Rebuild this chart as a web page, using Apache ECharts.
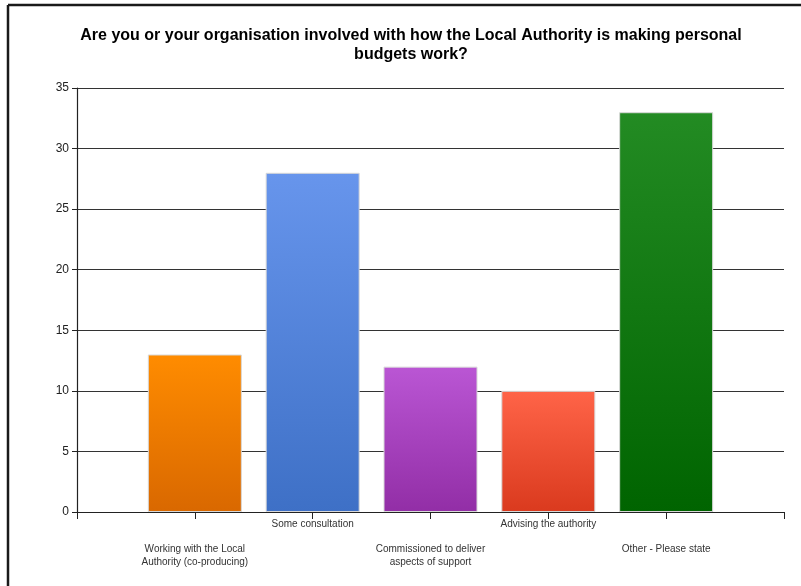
<!DOCTYPE html>
<html>
<head>
<meta charset="utf-8">
<script src="https://cdn.jsdelivr.net/npm/echarts@6/dist/echarts.min.js"></script>
<style>
  html, body { margin: 0; padding: 0; background: #fff; }
  #chart { width: 801px; height: 586px; }
</style>
</head>
<body>
<div id="chart"></div>
<script>
// Survey responses: involvement with personal budgets
const categories = [
  'Working with the Local\nAuthority (co-producing)',
  'Some consultation',
  'Commissioned to deliver\naspects of support',
  'Advising the authority',
  'Other - Please state'
];
const responses = [13, 28, 12, 10, 33];
const yTicks = { min: 0, max: 35, interval: 5 };

// top / bottom gradient colour per bar
const barColors = [
  ['#ff8c00', '#d96800'],
  ['#6795ec', '#3e70c6'],
  ['#ba56d4', '#922ea6'],
  ['#ff6448', '#da3a1e'],
  ['#238b23', '#006400']
];

// padded axis: an empty slot at each end so bars sit on the inner ticks
const axisCats = [''].concat(categories, ['']);
const barData = [null].concat(responses.map((v, i) => ({
  value: v,
  itemStyle: {
    color: new echarts.graphic.LinearGradient(0, 0, 0, 1, [
      { offset: 0, color: barColors[i][0] },
      { offset: 1, color: barColors[i][1] }
    ])
  }
})), [null]);

const chart = echarts.init(document.getElementById('chart'), null, { renderer: 'canvas' });
chart.setOption({
  backgroundColor: '#ffffff',
  animation: false,
  title: {
    text: 'Are you or your organisation involved with how the Local Authority is making personal\nbudgets work?',
    left: 406,
    top: 21,
    textAlign: 'center',
    textStyle: {
      fontFamily: 'Liberation Sans, Arial, sans-serif',
      fontSize: 16,
      fontWeight: 'bold',
      color: '#000',
      lineHeight: 19
    }
  },
  grid: { left: 77, right: 17, top: 88, bottom: 74, containLabel: false },
  xAxis: {
    type: 'category',
    data: axisCats,
    boundaryGap: false,
    axisLine: { lineStyle: { color: '#222', width: 1.2 } },
    axisTick: { show: true, length: 7, interval: 0, lineStyle: { color: '#222' } },
    axisLabel: {
      interval: 0,
      margin: 6,
      fontFamily: 'Liberation Sans, Arial, sans-serif',
      fontSize: 10,
      color: '#333',
      lineHeight: 12.5,
      align: 'center',
      formatter: function (val, idx) {
        if (!val) return '';
        return (idx % 2 === 1) ? '\n\n' + val : val;
      }
    },
    splitLine: { show: false }
  },
  yAxis: {
    type: 'value',
    min: yTicks.min,
    max: yTicks.max,
    interval: yTicks.interval,
    axisLine: { show: true, lineStyle: { color: '#222', width: 1.2 } },
    axisTick: { show: true, length: 5, lineStyle: { color: '#222' } },
    axisLabel: {
      margin: 8,
      fontFamily: 'Liberation Sans, Arial, sans-serif',
      fontSize: 12,
      color: '#222'
    },
    splitLine: { show: true, lineStyle: { color: '#333', width: 1.2 } }
  },
  series: [{
    type: 'bar',
    data: barData,
    barWidth: 94,
    itemStyle: { borderColor: '#d8d8d8', borderWidth: 1 }
  }],
  graphic: [
    { type: 'line', shape: { x1: 8, y1: 5, x2: 801, y2: 5 }, style: { stroke: '#1a1a1a', lineWidth: 2.5 } },
    { type: 'line', shape: { x1: 8, y1: 5, x2: 8, y2: 586 }, style: { stroke: '#1a1a1a', lineWidth: 2.5 } }
  ]
});
</script>
</body>
</html>
